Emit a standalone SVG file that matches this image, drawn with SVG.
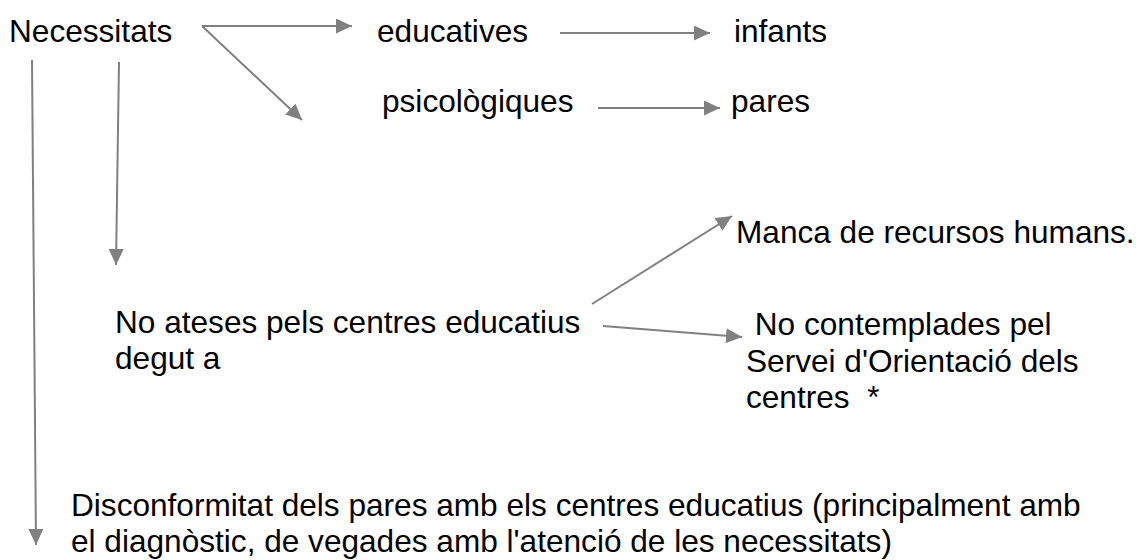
<svg xmlns="http://www.w3.org/2000/svg" width="1142" height="560" viewBox="0 0 1142 560">
<defs>
<style>
text{font-family:"Liberation Sans",Arial,sans-serif;font-size:31.6px;fill:#000;white-space:pre}
.c line{stroke:#808080;stroke-width:2;fill:none}
</style>
<marker id="ah" viewBox="0 0 16 15" refX="16" refY="7.5" markerWidth="16" markerHeight="15" markerUnits="userSpaceOnUse" orient="auto">
<path d="M0,0 L16,7.5 L0,15 z" fill="#808080"/>
</marker>
</defs>
<rect width="1142" height="560" fill="#fff"/>
<g id="n-necessitats"><text x="9" y="42">Necessitats</text></g>
<g id="n-educatives"><text x="377" y="42">educatives</text></g>
<g id="n-infants"><text x="734" y="42">infants</text></g>
<g id="n-psicologiques"><text x="382" y="112">psicològiques</text></g>
<g id="n-pares"><text x="731" y="112">pares</text></g>
<g id="n-manca"><text x="736" y="243">Manca de recursos humans.</text></g>
<g id="n-noateses"><text x="115" y="333">No ateses pels centres educatius</text><text x="115" y="369">degut a</text></g>
<g id="n-nocontemplades"><text x="746" y="335"> No contemplades pel</text><text x="746" y="372">Servei d'Orientació dels</text><text x="746" y="408">centres  *</text></g>
<g id="n-disconformitat"><text x="71" y="516">Disconformitat dels pares amb els centres educatius (principalment amb</text><text x="71" y="552">el diagnòstic, de vegades amb l'atenció de les necessitats)</text></g>
<g id="connectors" class="c">
<line x1="202" y1="26" x2="352" y2="26" marker-end="url(#ah)"/>
<line x1="202" y1="26" x2="302" y2="120" marker-end="url(#ah)"/>
<line x1="560" y1="33" x2="710" y2="33" marker-end="url(#ah)"/>
<line x1="598" y1="108" x2="720" y2="108" marker-end="url(#ah)"/>
<line x1="32" y1="60" x2="36" y2="545" marker-end="url(#ah)"/>
<line x1="119" y1="62" x2="116" y2="265" marker-end="url(#ah)"/>
<line x1="592" y1="304" x2="732" y2="216" marker-end="url(#ah)"/>
<line x1="603" y1="326" x2="742" y2="337" marker-end="url(#ah)"/>
</g>
</svg>
